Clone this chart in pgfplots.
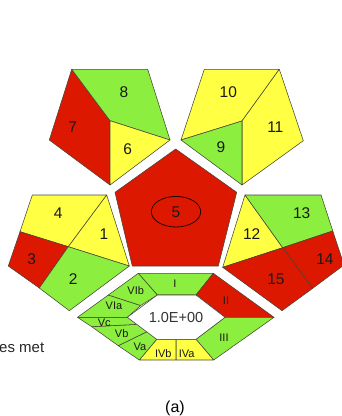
\documentclass[border=0pt]{standalone}
\usepackage{fontspec}
\setmainfont{Liberation Sans}
\usepackage{pgfplots}
\pgfplotsset{compat=1.18}
\definecolor{cRed}{RGB}{221,24,0}
\definecolor{cGreen}{RGB}{140,238,62}
\definecolor{cYel}{RGB}{255,255,68}
\definecolor{cEdge}{RGB}{70,70,55}
\pgfplotsset{
  seg/.style={draw=cEdge, line width=0.55pt, mark=none, line join=round},
  red seg/.style={seg, fill=cRed},
  green seg/.style={seg, fill=cGreen},
  yellow seg/.style={seg, fill=cYel},
}
\tikzset{
  big/.style={font=\fontsize{15.5}{17}\selectfont, text=black!90},
  small/.style={font=\fontsize{11}{12}\selectfont, text=black!90},
}
\begin{document}
\begin{tikzpicture}
\begin{axis}[
  scale only axis, width=342pt, height=416pt,
  xmin=0, xmax=342, ymin=0, ymax=416, y dir=reverse,
  hide axis, clip=true,
]
% upper left pentagon: 7, 8, 6
\addplot[red seg]    coordinates {(71.7,69.3) (110,120.7) (110,185) (49.3,140)} -- cycle;
\addplot[green seg]  coordinates {(71.7,69.3) (147.7,69.3) (170,140) (110,120.7)} -- cycle;
\addplot[yellow seg] coordinates {(110,120.7) (170,140) (110,185)} -- cycle;
% upper right pentagon: 10, 11, 9
\addplot[yellow seg] coordinates {(204.3,69.3) (279.3,69.3) (242,121) (181,140)} -- cycle;
\addplot[yellow seg] coordinates {(279.3,69.3) (303.3,140.7) (242,185) (242,121)} -- cycle;
\addplot[green seg]  coordinates {(181,140) (242,121) (242,185)} -- cycle;
% central pentagon: 5
\addplot[red seg] coordinates {(175.7,149) (236.7,192.3) (218.3,266) (132.3,266) (115,192.3)} -- cycle;
% lower left pentagon: 4, 1, 3, 2
\addplot[yellow seg] coordinates {(32.3,195) (106.7,195) (68.3,246.7) (20,231.7)} -- cycle;
\addplot[yellow seg] coordinates {(106.7,195) (129.3,266) (68.3,246.7)} -- cycle;
\addplot[red seg]    coordinates {(20,231.7) (68.3,246.7) (39.3,288) (8.3,266)} -- cycle;
\addplot[green seg]  coordinates {(68.3,246.7) (129.3,266) (69.3,310.7) (39.3,288)} -- cycle;
% lower right pentagon: 12, 13, 14, 15
\addplot[yellow seg] coordinates {(245,195) (282.7,247.7) (222.7,267.3)} -- cycle;
\addplot[green seg]  coordinates {(245,195) (321,195) (332.8,231) (282.7,247.7)} -- cycle;
\addplot[red seg]    coordinates {(282.7,247.7) (332.8,231) (344,265) (312.7,288.3)} -- cycle;
\addplot[red seg]    coordinates {(222.7,267.3) (282.7,247.7) (312.7,288.3) (282,310.7)} -- cycle;
% hexagonal ring
\addplot[green seg]  coordinates {(138.3,273.3) (213.3,273.3) (196,295) (157.3,295)} -- cycle;   % I
\addplot[red seg]    coordinates {(213.3,273.3) (274,317.3) (225,317.3) (196,295)} -- cycle;     % II
\addplot[green seg]  coordinates {(274,317.3) (213.7,360) (196,339.3) (225,317.3)} -- cycle;     % III
\addplot[yellow seg] coordinates {(176,339.3) (196,339.3) (213.7,360) (176,360)} -- cycle;       % IVa
\addplot[yellow seg] coordinates {(139.3,360) (156.7,339.3) (176,339.3) (176,360)} -- cycle;     % IVb
\addplot[green seg]  coordinates {(118.3,345.7) (147.7,331.3) (156.7,339.3) (139.3,360)} -- cycle; % Va
\addplot[green seg]  coordinates {(91.7,326.7) (138.3,324.3) (147.7,331.3) (118.3,345.7)} -- cycle; % Vb
\addplot[green seg]  coordinates {(77.5,317.3) (127.3,317.3) (138.3,324.3) (91.7,326.7)} -- cycle; % Vc
\addplot[green seg]  coordinates {(77.5,317.3) (108.3,295) (140.7,305.5) (127.3,317.3)} -- cycle; % VIa
\addplot[green seg]  coordinates {(108.3,295) (138.3,273.3) (157.3,295) (140.7,305.5)} -- cycle;  % VIb
\addplot[draw=cEdge, line width=0.55pt, fill=white, mark=none] coordinates {(157.3,295) (196,295) (225,317.3) (196,339.3) (156.7,339.3) (127.3,317.3)} -- cycle;

\draw[black!85!red, line width=0.8pt] (axis cs:176,211.7) ellipse [x radius=24.7pt, y radius=15.3pt];

% labels
\node[big] at (axis cs:124,91.7) {8};
\node[big] at (axis cs:72.7,127.3) {7};
\node[big] at (axis cs:127.7,149.3) {6};
\node[big] at (axis cs:228.3,91.7) {10};
\node[big] at (axis cs:275.3,127.3) {11};
\node[big] at (axis cs:221,146.7) {9};
\node[big] at (axis cs:176,212.5) {5};
\node[big] at (axis cs:58.3,213.3) {4};
\node[big] at (axis cs:104,234) {1};
\node[big] at (axis cs:31.7,259) {3};
\node[big] at (axis cs:73.3,279.3) {2};
\node[big] at (axis cs:301.7,212.7) {13};
\node[big] at (axis cs:251.7,234) {12};
\node[big] at (axis cs:325,259.3) {14};
\node[big] at (axis cs:276,279) {15};
\node[small] at (axis cs:175,284) {I};
\node[small] at (axis cs:226,300.7) {II};
\node[small] at (axis cs:224,337.3) {III};
\node[small] at (axis cs:163.3,353.3) {IVb};
\node[small] at (axis cs:186.7,353.3) {IVa};
\node[small] at (axis cs:140,346.7) {Va};
\node[small] at (axis cs:121.7,333.3) {Vb};
\node[small] at (axis cs:104.3,322.7) {Vc};
\node[small] at (axis cs:114,306) {VIa};
\node[small] at (axis cs:135.7,290.7) {VIb};
\node[font=\fontsize{14.5}{16}\selectfont, text=black!80] at (axis cs:176,317.3) {1.0E+00};
\node[font=\fontsize{15}{16}\selectfont, text=black!85, anchor=west, inner sep=0pt] at (axis cs:-1,348) {es met};
\node[font=\fontsize{16}{18}\selectfont, text=black] at (axis cs:175,408) {(a)};
\end{axis}
% keep the whole (hidden) axis area as the page
\path (current axis.south west) rectangle (current axis.north east);
\end{tikzpicture}
\end{document}
